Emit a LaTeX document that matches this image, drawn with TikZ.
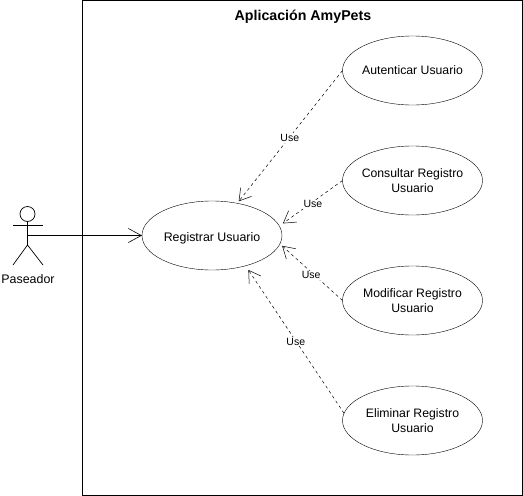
\documentclass[tikz,border=0pt]{standalone}
\usepackage{fontspec}
\setmainfont{Liberation Sans}
\usetikzlibrary{arrows.meta, positioning, shapes.geometric}
\tikzset{%
	usecase/.style={draw, ellipse, minimum width=140pt, minimum height=69pt, inner sep=-12pt,%
		outer sep=0pt, align=center, font=\fontsize{12.25}{15}\selectfont},
	sysbox/.style={draw, line width=0.8pt},
	assoc/.style={-{Straight Barb[length=13pt,width=14pt]}, line width=0.6pt},
	uses/.style={-{Straight Barb[length=11.5pt,width=14pt]}, line width=0.5pt, dash pattern=on 3pt off 3pt},
	uselabel/.style={fill=white, inner sep=1pt, font=\fontsize{10.5}{12}\selectfont},
	limb/.style={line width=0.7pt}
}

\begin{document}
\begin{tikzpicture}[x=1pt, y=-1pt]
	\useasboundingbox (0,0) rectangle (523,496);
	\draw[sysbox] (82.5,0.5) rectangle (522.5,495.5);
	\node[font=\fontsize{14.2}{16}\selectfont\bfseries] (title) at (303,17) {Aplicación AmyPets};

	\node[usecase, text height=11pt, text depth=0pt, font=\fontsize{12.4}{15}\selectfont] (reg) at (212,235.5) {Registrar Usuario};
	\node[usecase] (auth) at (412.5,70.5) {Autenticar Usuario};
	\node[usecase] (cons) at (412.5,180.5) {Consultar Registro\\Usuario};
	\node[usecase] (modi) at (412.5,300.5) {Modificar Registro\\Usuario};
	\node[usecase] (elim) at (412.5,420.5) {Eliminar Registro\\Usuario};

	% actor
	\node[draw, circle, minimum size=15pt, inner sep=0pt, limb] (head) at (27.5,214) {};
	\coordinate (hip) at (27.5,245);
	\coordinate (waist) at (27.5,235.5);
	\coordinate (armL) at (13,225);
	\coordinate (armR) at (43,225);
	\coordinate (legL) at (13,265);
	\coordinate (legR) at (43,265);
	\node[font=\fontsize{12.4}{15}\selectfont] (paseador) at (28,279) {Paseador};
	\draw[limb] (head) -- (hip);
	\draw[limb] (armL) -- (armR);
	\draw[limb] (legL) -- (hip) -- (legR);

	\draw[assoc] (waist) -- (reg.west);

	\draw[uses, shorten >=2.5pt] (auth.west) -- node[uselabel, pos=0.5, yshift=-1pt] (use1) {Use} (reg.52);
	\draw[uses, shorten >=4.5pt] (cons.west) -- node[uselabel, pos=0.5, xshift=2pt, yshift=-1pt] (use2) {Use} (reg.8);
	\draw[uses, shorten >=3pt] (modi.west) -- node[uselabel, pos=0.5, yshift=-3pt] (use3) {Use} (reg.-7);
	\draw[uses, shorten >=5pt] (elim.174) -- node[uselabel, pos=0.5, xshift=1pt, yshift=-2pt] (use4) {Use} (reg.-42);
\end{tikzpicture}
\end{document}
